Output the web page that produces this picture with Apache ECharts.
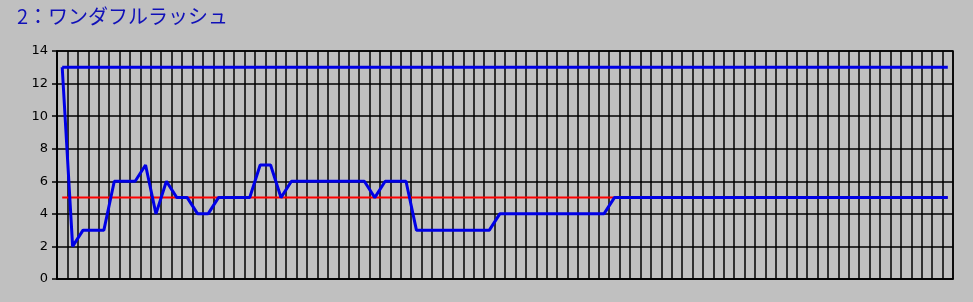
<!DOCTYPE html>
<html>
<head>
<meta charset="utf-8">
<script src="https://cdn.jsdelivr.net/npm/echarts@6/dist/echarts.min.js"></script>
<style>
html,body{margin:0;padding:0;background:#c0c0c0;}
#c{width:973px;height:302px;}
</style>
</head>
<body>
<div id="c"></div>
<script>
var titleText = '2：ワンダフルラッシュ';
var categoryCount = 86;
var categories = [];
for (var k = 1; k <= categoryCount; k++) categories.push(String(k));
var yTicks = [0, 2, 4, 6, 8, 10, 12, 14];
var mainValues = [
  13, 2, 3, 3, 3, 6, 6, 6, 7, 4,
  6, 5, 5, 4, 4, 5, 5, 5, 5, 7,
  7, 5, 6, 6, 6, 6, 6, 6, 6, 6,
  5, 6, 6, 6, 3, 3, 3, 3, 3, 3,
  3, 3, 4, 4, 4, 4, 4, 4, 4, 4,
  4, 4, 4, 5, 5, 5, 5, 5, 5, 5,
  5, 5, 5, 5, 5, 5, 5, 5, 5, 5,
  5, 5, 5, 5, 5, 5, 5, 5, 5, 5,
  5, 5, 5, 5, 5, 5
];
var upperValues = [];
var refValues = [];
for (var j = 0; j < categoryCount; j++) { upperValues.push(13); refValues.push(5); }

var chart = echarts.init(document.getElementById('c'), null, {renderer: 'canvas'});
chart.setOption({
  backgroundColor: '#c0c0c0',
  animation: false,
  title: {
    text: titleText,
    left: 12, top: 1,
    textStyle: {color: '#1010b8', fontSize: 20, fontWeight: 'normal', fontFamily: 'Noto Sans CJK JP'}
  },
  grid: {left: 57, right: 20, top: 51, bottom: 23, show: true, borderColor: '#000', borderWidth: 1.5, backgroundColor: 'transparent'},
  xAxis: {
    type: 'category',
    data: categories,
    boundaryGap: true,
    axisLine: {show: true, lineStyle: {color: '#000', width: 1.5}},
    axisTick: {show: false},
    axisLabel: {show: false},
    splitLine: {show: true, interval: 0, lineStyle: {color: '#000', width: 1.5}}
  },
  yAxis: {
    type: 'value',
    min: yTicks[0], max: yTicks[yTicks.length - 1], interval: 2,
    axisLine: {show: true, lineStyle: {color: '#000', width: 1.5}},
    axisTick: {show: true, length: 5, lineStyle: {color: '#000', width: 1.5}},
    axisLabel: {color: '#000', fontSize: 13, fontFamily: 'DejaVu Sans', margin: 9},
    splitLine: {show: true, lineStyle: {color: '#000', width: 1.5}}
  },
  series: [
    {type: 'line', data: refValues, symbol: 'none', lineStyle: {color: '#ff0000', width: 2}, z: 2},
    {type: 'line', data: upperValues, symbol: 'none', lineStyle: {color: '#0000e6', width: 3}, z: 3},
    {type: 'line', data: mainValues, symbol: 'none', lineStyle: {color: '#0000e6', width: 3}, z: 4}
  ]
});
</script>
</body>
</html>
